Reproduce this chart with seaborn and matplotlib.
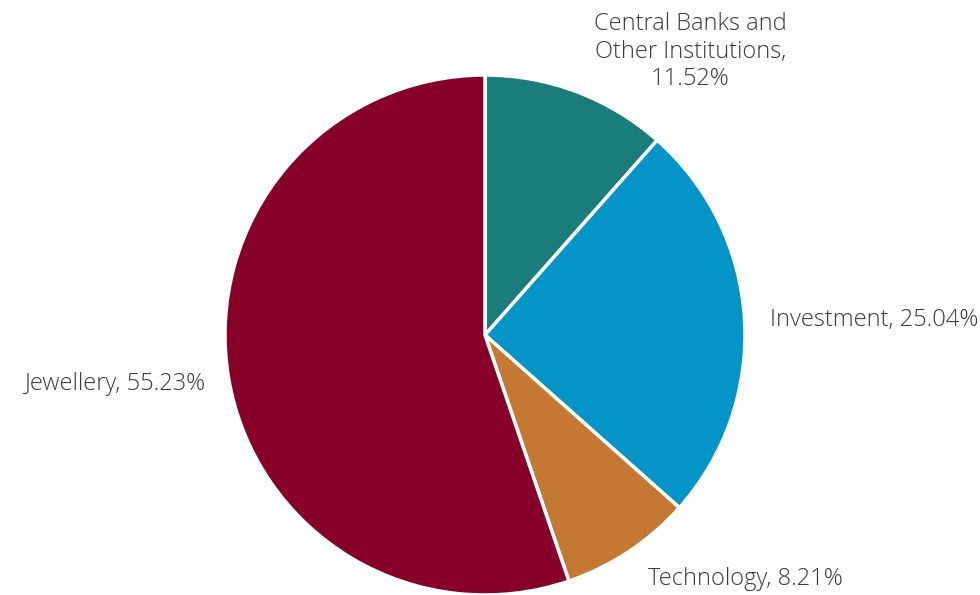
import matplotlib
matplotlib.use("Agg")
import matplotlib.pyplot as plt
import seaborn as sns

sns.set_theme(style="white")
plt.rcParams['font.family'] = ['Open Sans', 'DejaVu Sans']

categories = ["Central Banks and\nOther Institutions", "Investment", "Technology", "Jewellery"]
shares = [11.52, 25.04, 8.21, 55.23]
colors = ["#1b7d7a", "#0494c8", "#c47831", "#870029"]

# label anchor points (data units, pie radius = 1) and alignment
label_pos = [(0.79, 1.09), (1.096, 0.058), (0.627, -0.94), (-1.077, -0.19)]
label_ha = ["center", "left", "left", "right"]

fig = plt.figure(figsize=(9.8, 5.95), dpi=100)
ax = fig.add_axes([225 / 980, 0 / 595, 520 / 980, 520 / 595])

labels = [f"{c}, {v:.2f}%" if "\n" not in c else f"{c},\n{v:.2f}%" for c, v in zip(categories, shares)]
wedges, texts = ax.pie(
    shares, labels=labels, colors=colors, startangle=90, counterclock=False,
    wedgeprops=dict(edgecolor="white", linewidth=2.5),
    textprops=dict(fontsize=17, color="#3a3a3a", fontweight="light"),
)
for t, p, ha in zip(texts, label_pos, label_ha):
    t.set_position(p)
    t.set_ha(ha)
    t.set_va("center")
    t.set_multialignment("center")
    t.set_clip_on(False)

ax.set_xlim(-1, 1)
ax.set_ylim(-1, 1)
ax.set_aspect("equal")
fig.savefig("out.png", dpi=100)
